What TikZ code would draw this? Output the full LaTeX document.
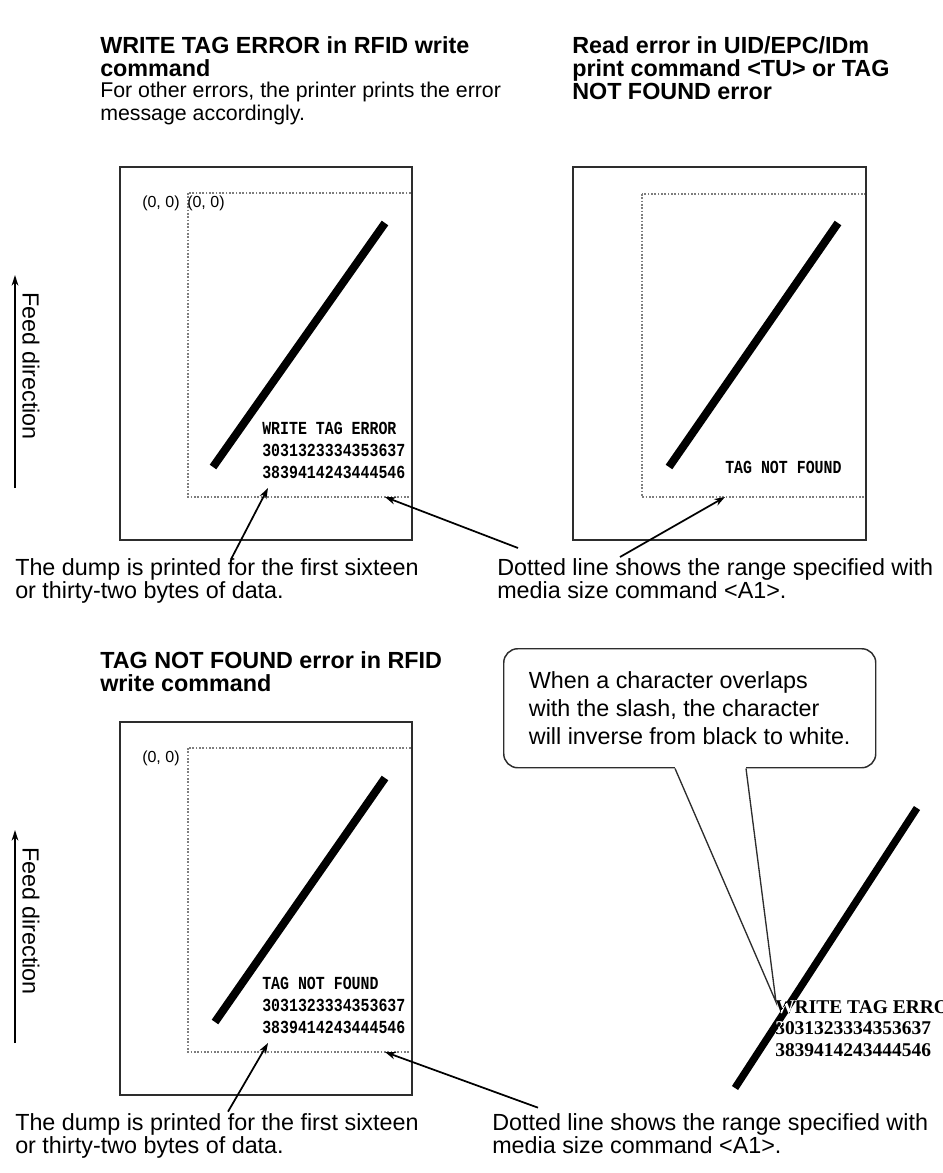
\documentclass[tikz,border=0pt]{standalone}
\usepackage{fontspec}
\setmainfont{Liberation Sans}
\newfontfamily\dumpfont{Liberation Mono}[FakeStretch=0.81]
\newfontfamily\samplefont{Liberation Serif}
\definecolor{FrameColor}{RGB}{45,45,45}
\definecolor{DotColor}{RGB}{125,125,125}
\usetikzlibrary{arrows.meta}
\tikzstyle{labelframe} = [draw=FrameColor, line width=1.1pt]
\tikzstyle{mediarange} = [draw=DotColor, line width=1.3pt, dash pattern=on 1.2pt off 1.3pt]
\tikzstyle{slash} = [line width=6pt]
\tikzstyle{pointer} = [line width=1.3pt, -{Stealth[length=8pt,width=5.5pt]}]
\tikzstyle{feed} = [line width=1.3pt, -{Stealth[length=8pt,width=5pt]}]
\tikzstyle{heading} = [anchor=north west, inner sep=0pt, align=left, font=\fontsize{17.5pt}{17.4pt}\selectfont\bfseries]
\tikzstyle{note} = [anchor=north west, inner sep=0pt, align=left, font=\fontsize{16pt}{17.4pt}\selectfont]
\tikzstyle{remark} = [anchor=north west, inner sep=0pt, align=left, font=\fontsize{17.5pt}{17.4pt}\selectfont]
\tikzstyle{originlabel} = [anchor=west, inner sep=0pt, font=\fontsize{12pt}{14pt}\selectfont]
\tikzstyle{dump} = [anchor=north west, inner sep=0pt, align=left, font=\dumpfont\bfseries\fontsize{13.8pt}{16.5pt}\selectfont]
\tikzstyle{sampletext} = [anchor=north west, inner sep=0pt, align=left, font=\samplefont\bfseries\fontsize{14.6pt}{16.1pt}\selectfont]
\tikzstyle{bubblebox} = [anchor=north west, draw=FrameColor, line width=1.1pt, rounded corners=10.5pt, minimum width=279pt, minimum height=89.25pt, align=left, font=\fontsize{17.5pt}{21pt}\selectfont]
\tikzstyle{bubbleline} = [draw=FrameColor, line width=1pt]

\begin{document}
\begin{tikzpicture}[x=0.75pt, y=-0.75pt]
  \useasboundingbox (0,0) rectangle (942,1173);
  \clip (0,0) rectangle (942,1173);

  % Headings
  \node[heading] (headWrite) at (100,36) {WRITE TAG ERROR in RFID write\\command};
  \node[note] (noteWrite) at (100,82) {For other errors, the printer prints the error\\message accordingly.};
  \node[heading] (headRead) at (572,36) {Read error in UID/EPC/IDm\\print command <TU> or TAG\\NOT FOUND error};

  % Feed direction (top)
  \coordinate (feedTail1) at (15,488);
  \coordinate (feedHead1) at (15,275);
  \draw[feed] (feedTail1) -- (feedHead1);
  \node[remark, anchor=center, rotate=-90] (feedText1) at (31,366) {Feed direction};

  % Label with WRITE TAG ERROR
  \draw[mediarange] (188,193) rectangle (412,497);
  \draw[labelframe] (120,167) rectangle (412,540);
  \node[originlabel] (orgA) at (142,203) {(0, 0)};
  \node[originlabel] (orgB) at (187,203) {(0, 0)};
  \draw[slash] (213,467) -- (385,223);
  \node[dump] (dumpWrite) at (262,422) {WRITE TAG ERROR\\3031323334353637\\3839414243444546};

  % Label with TAG NOT FOUND
  \draw[mediarange] (642,194) rectangle (866,497);
  \draw[labelframe] (573,167) rectangle (866,540);
  \draw[slash] (669,467) -- (838,223);
  \node[dump] (dumpRead) at (725,461) {TAG NOT FOUND};

  % Notes under the top labels
  \node[remark] (dumpNote1) at (15,558) {The dump is printed for the first sixteen\\or thirty-two bytes of data.};
  \node[remark] (rangeNote1) at (497,558) {Dotted line shows the range specified with\\media size command <A1>.};
  \coordinate (dumpTip1) at (268,488);
  \coordinate (rangeTipA) at (385,497);
  \coordinate (rangeTipB) at (725,497);
  \draw[pointer] ([xshift=162pt, yshift=-1pt]dumpNote1.north west) -- (dumpTip1);
  \draw[pointer] ([xshift=15.75pt, yshift=7.5pt]rangeNote1.north west) -- (rangeTipA);
  \draw[pointer] ([xshift=92.25pt, yshift=0.75pt]rangeNote1.north west) -- (rangeTipB);

  % Second heading
  \node[heading] (headNotFound) at (100,651) {TAG NOT FOUND error in RFID\\write command};

  % Feed direction (bottom)
  \coordinate (feedTail2) at (15,1043);
  \coordinate (feedHead2) at (15,830);
  \draw[feed] (feedTail2) -- (feedHead2);
  \node[remark, anchor=center, rotate=-90] (feedText2) at (31,921) {Feed direction};

  % Label with TAG NOT FOUND and dump
  \draw[mediarange] (188,748) rectangle (412,1052);
  \draw[labelframe] (120,722) rectangle (412,1095);
  \node[originlabel] (orgC) at (142,758) {(0, 0)};
  \draw[slash] (215,1022) -- (385,778);
  \node[dump] (dumpNotFound) at (262,977) {TAG NOT FOUND\\3031323334353637\\3839414243444546};

  % Notes under the bottom label
  \node[remark] (dumpNote2) at (15,1113) {The dump is printed for the first sixteen\\or thirty-two bytes of data.};
  \node[remark] (rangeNote2) at (492,1113) {Dotted line shows the range specified with\\media size command <A1>.};
  \coordinate (dumpTip2) at (268,1043);
  \coordinate (rangeTipC) at (385,1052);
  \draw[pointer] ([xshift=159.75pt, yshift=1pt]dumpNote2.north west) -- (dumpTip2);
  \draw[pointer] ([xshift=34.5pt, yshift=4pt]rangeNote2.north west) -- (rangeTipC);

  % Slash over characters
  \node[sampletext] (sampleText) at (775,1000) {WRITE TAG ERROR\\3031323334353637\\3839414243444546};
  \draw[slash, line width=5.5pt] (735,1088) -- (917,808);
  \begin{scope}
    \clip (731.9,1086) -- (738.1,1090) -- (920.1,810) -- (913.9,806) -- cycle;
    \node[sampletext, text=white] (sampleInverse) at (775,1000) {WRITE TAG ERROR\\3031323334353637\\3839414243444546};
  \end{scope}

  % Callout
  \node[bubblebox] (bubble) at (503,648) {When a character overlaps\\with the slash, the character\\will inverse from black to white.};
  \coordinate (inverseTip) at (776,1002);
  \fill[white] ([xshift=129pt, yshift=1.2pt]bubble.south west) rectangle ([xshift=182.25pt, yshift=-1.2pt]bubble.south west);
  \draw[bubbleline] ([xshift=129pt]bubble.south west) -- (inverseTip) -- ([xshift=182.25pt]bubble.south west);
\end{tikzpicture}
\end{document}
